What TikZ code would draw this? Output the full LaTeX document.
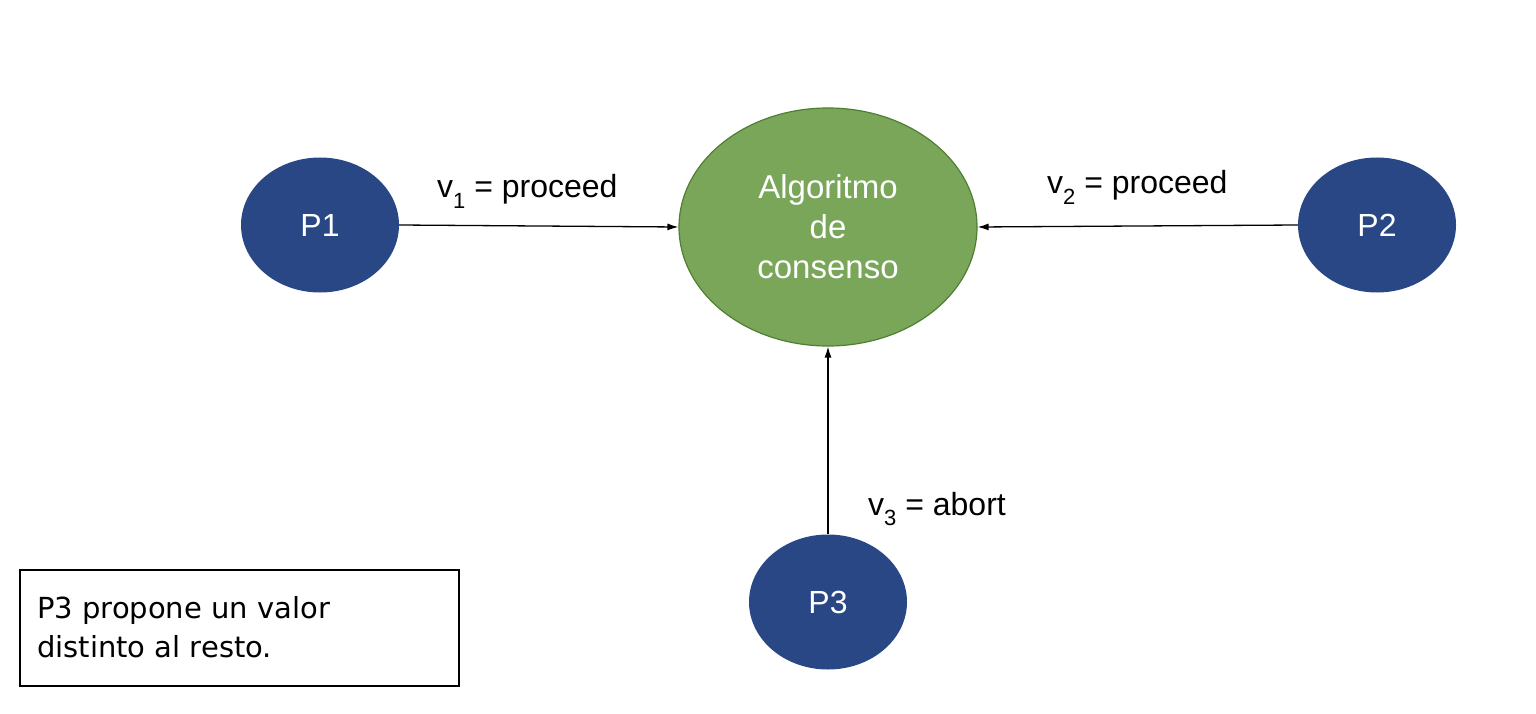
\documentclass[tikz,border=0pt]{standalone}
\usepackage{fontspec}
\setmainfont{Liberation Sans}
\newfontfamily\notefont{DejaVu Sans}
\usetikzlibrary{shapes.geometric,arrows.meta}
\definecolor{pblue}{RGB}{41,71,132}
\definecolor{agreen}{RGB}{122,166,90}
\definecolor{aborder}{RGB}{80,126,50}
\newcommand{\sbx}[1]{\raisebox{-10pt}{\fontsize{22}{22}\selectfont #1}}
\tikzset{
  proc/.style={ellipse, fill=pblue, text=white, minimum width=158pt, minimum height=135pt, inner sep=0pt, font=\fontsize{32}{32}\selectfont},
  algo/.style={ellipse, fill=agreen, draw=aborder, line width=1.2pt, text=white, minimum width=298pt, minimum height=238pt, inner sep=0pt, align=center, font=\fontsize{33}{40}\selectfont},
  conn/.style={line width=1.3pt, -{Latex[length=11pt,width=7pt]}},
  lbl/.style={inner sep=0pt, font=\fontsize{32}{32}\selectfont},
  note/.style={draw, line width=1.3pt, minimum width=439pt, minimum height=116pt, inner sep=0pt}
}
\begin{document}
\begin{tikzpicture}[x=1pt,y=-1pt]
\useasboundingbox (0,0) rectangle (1536,714);
\fill[white] (0,0) rectangle (1536,714);
\node[proc] (p1) at (320,225) {P1};
\node[proc] (p2) at (1377,225) {P2};
\node[proc] (p3) at (828,602) {P3};
\node[algo] (alg) at (828,227) {Algoritmo\\de\\consenso};
\draw[conn] (p1.east) -- (alg.west);
\draw[conn] (p2.west) -- (alg.east);
\draw[conn] (p3.north) -- (alg.south);
\node[lbl, anchor=base west] (l1) at (437,198) {v\sbx{1} = proceed};
\node[lbl, anchor=base west] (l2) at (1047,194) {v\sbx{2} = proceed};
\node[lbl, anchor=base west] (l3) at (868,515) {v\sbx{3} = abort};
\node[note] (box) at (239.5,628) {};
\node[anchor=base west, inner sep=0pt, align=left, font=\notefont\fontsize{29}{39}\selectfont] (bt) at (37,657) {P3 propone un valor\\distinto al resto.};
\end{tikzpicture}
\end{document}
